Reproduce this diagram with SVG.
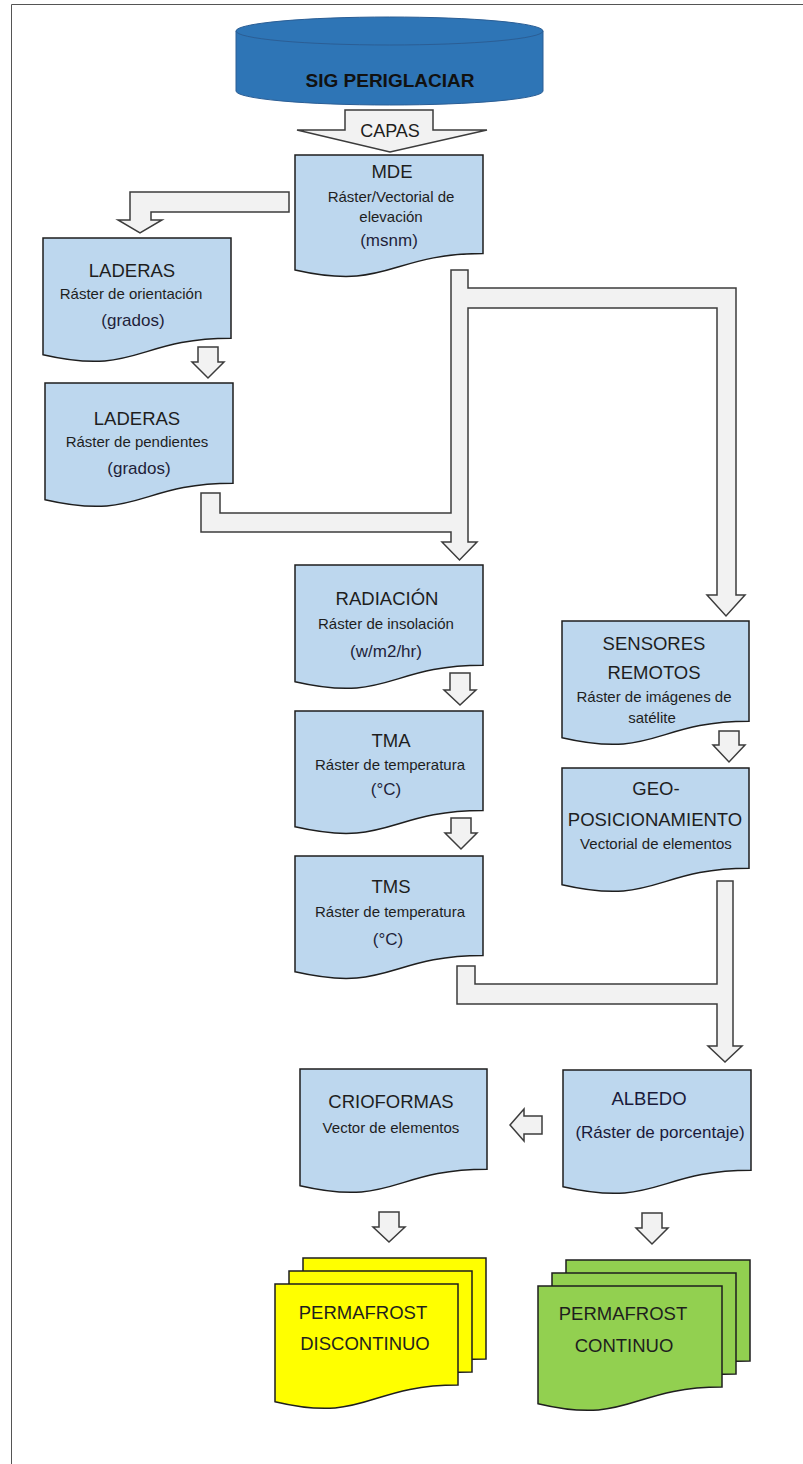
<svg xmlns="http://www.w3.org/2000/svg" width="803" height="1464" viewBox="0 0 803 1464">
<style>
.doc{fill:#BDD7EE;stroke:#1e1e1e;stroke-width:1.5}
.yel{fill:#FFFF00;stroke:#1e1e1e;stroke-width:1.5}
.grn{fill:#92D050;stroke:#1e1e1e;stroke-width:1.5}
.arr{fill:#F2F2F2;stroke:#3c3c3c;stroke-width:1.5;stroke-linejoin:miter}
text{font-family:"Liberation Sans",Arial,sans-serif;fill:#1e1e1e;text-anchor:middle}
.t{font-size:18.5px}
.s{font-size:15px}
.u{font-size:17px;fill:#1f1f3a}
.p{font-size:18.5px}
</style>
<rect x="0" y="0" width="803" height="1464" fill="#ffffff"/>
<path d="M11.5,1464 V4.5 H803" fill="none" stroke="#555" stroke-width="1"/>

<g id="sig">
<path d="M236,31 V91 A153.5,14 0 0 0 543,91 V31 Z" fill="#2E75B6" stroke="#2B5E95" stroke-width="1"/>
<ellipse cx="389.5" cy="31" rx="153.5" ry="14" fill="#2E75B6" stroke="#2B5E95" stroke-width="1"/>
<text x="390" y="87" style="font-size:19px;font-weight:bold;fill:#111">SIG PERIGLACIAR</text>
</g>

<g id="connectors">
<path id="capas" class="arr" d="M345,110 H433 V130 H487 L390,152 L297,130 H345 Z"/>
<text x="390" y="137" style="font-size:18px">CAPAS</text>
<path class="arr" d="M289,192 H130 V220 H118 L140,233 L162,220 H151 V212 H289 Z"/>
<path class="arr" d="M198,347 H218 V362 H224 L208,378 L192,362 H198 Z"/>
<path class="arr" d="M451,270 H468 V288 H736 V595 H745 L726,616 L707,595 H717 V308 H468 V542 H477 L459.5,560 L442,542 H451 V532 H201 V493 H220 V513 H451 Z"/>
<path class="arr" d="M450,673 H470 V690 H476 L460,705 L444,690 H450 Z"/>
<path class="arr" d="M451,818 H471 V833 H477 L461,849 L445,833 H451 Z"/>
<path class="arr" d="M719,731 H739 V745 H745 L729,762 L713,745 H719 Z"/>
<path class="arr" d="M717,881 H733 V1046 H742 L725,1062 L708,1046 H717 V1004 H457 V966 H475 V984 H717 Z"/>
<path class="arr" d="M542,1116 V1134 H524 V1141 L510,1125 L524,1109 V1116 Z"/>
<path class="arr" d="M379,1212 H399 V1227 H405 L389,1242 L373,1227 H379 Z"/>
<path class="arr" d="M642,1213 H662 V1228 H668 L652,1244 L636,1228 H642 Z"/>
</g>

<g id="mde">
<path class="doc" d="M295,155 H483 V253.6 C389,253.6 389,291.2 295,269.9 Z"/>
<text class="t" x="392" y="178">MDE</text>
<text class="s" x="391" y="202">Ráster/Vectorial  de</text>
<text class="s" x="391" y="222">elevación</text>
<text class="u" x="389" y="246">(msnm)</text>
</g>

<g id="laderas1">
<path class="doc" d="M43,238 H231 V338.25 C137,338.25 137,376.4 43,354.75 Z"/>
<text class="t" x="132" y="277">LADERAS</text>
<text class="s" x="131" y="299">Ráster de orientación</text>
<text class="u" x="133" y="326">(grados)</text>
</g>

<g id="laderas2">
<path class="doc" d="M45,383 H233 V483.25 C139,483.25 139,521.4 45,499.75 Z"/>
<text class="t" x="137" y="425">LADERAS</text>
<text class="s" x="137" y="447">Ráster de pendientes</text>
<text class="u" x="139" y="474">(grados)</text>
</g>

<g id="radiacion">
<path class="doc" d="M295,565 H483 V665.25 C389,665.25 389,703.4 295,681.75 Z"/>
<text class="t" x="387" y="605">RADIACIÓN</text>
<text class="s" x="386" y="629">Ráster de insolación</text>
<text class="u" x="386" y="657">(w/m2/hr)</text>
</g>

<g id="tma">
<path class="doc" d="M295,711 H483 V810.45 C389,810.45 389,848.3 295,826.8 Z"/>
<text class="t" x="391" y="747">TMA</text>
<text class="s" x="390" y="770">Ráster de temperatura</text>
<text class="u" x="386" y="795">(°C)</text>
</g>

<g id="tms">
<path class="doc" d="M295,856 H483 V955.45 C389,955.45 389,993.3 295,971.8 Z"/>
<text class="t" x="391" y="893">TMS</text>
<text class="s" x="390" y="917">Ráster de temperatura</text>
<text class="u" x="388" y="945">(°C)</text>
</g>

<g id="sensores">
<path class="doc" d="M562,621 H749 V721.25 C655.5,721.25 655.5,759.4 562,737.75 Z"/>
<text class="t" x="654" y="650">SENSORES</text>
<text class="t" x="654" y="679">REMOTOS</text>
<text class="s" x="654" y="702">Ráster de imágenes de</text>
<text class="s" x="652" y="723">satélite</text>
</g>

<g id="geo">
<path class="doc" d="M562,768 H749 V868.25 C655.5,868.25 655.5,906.4 562,884.75 Z"/>
<text class="t" x="656" y="795">GEO-</text>
<text class="t" x="655" y="826">POSICIONAMIENTO</text>
<text class="s" x="656" y="849">Vectorial de elementos</text>
</g>

<g id="crioformas">
<path class="doc" d="M300,1069 H487 V1169.25 C393.5,1169.25 393.5,1207.4 300,1185.75 Z"/>
<text class="t" x="391" y="1108">CRIOFORMAS</text>
<text class="s" x="391" y="1133">Vector de elementos</text>
</g>

<g id="albedo">
<path class="doc" d="M563,1070 H751 V1170.25 C657,1170.25 657,1208.4 563,1186.75 Z"/>
<text x="649" y="1105" style="font-size:18.5px;fill:#1a1a3a">ALBEDO</text>
<text x="660" y="1138" style="font-size:17px;fill:#1a1a3a">(Ráster de porcentaje)</text>
</g>

<g id="permafrost-discontinuo">
<path class="yel" d="M303,1258 H486 V1359.05 C394.5,1359.05 394.5,1397.5 303,1375.7 Z"/>
<path class="yel" d="M289,1271 H472 V1372.05 C380.5,1372.05 380.5,1410.5 289,1388.7 Z"/>
<path class="yel" d="M275,1284 H458 V1385.05 C366.5,1385.05 366.5,1423.5 275,1401.7 Z"/>
<text class="p" x="363" y="1319">PERMAFROST</text>
<text class="p" x="365" y="1350">DISCONTINUO</text>
</g>

<g id="permafrost-continuo">
<path class="grn" d="M566,1260 H750 V1361.05 C658,1361.05 658,1399.5 566,1377.7 Z"/>
<path class="grn" d="M552,1273 H736 V1374.05 C644,1374.05 644,1412.5 552,1390.7 Z"/>
<path class="grn" d="M538,1286 H722 V1387.05 C630,1387.05 630,1425.5 538,1403.7 Z"/>
<text class="p" x="623" y="1320">PERMAFROST</text>
<text class="p" x="624" y="1352">CONTINUO</text>
</g>
</svg>
